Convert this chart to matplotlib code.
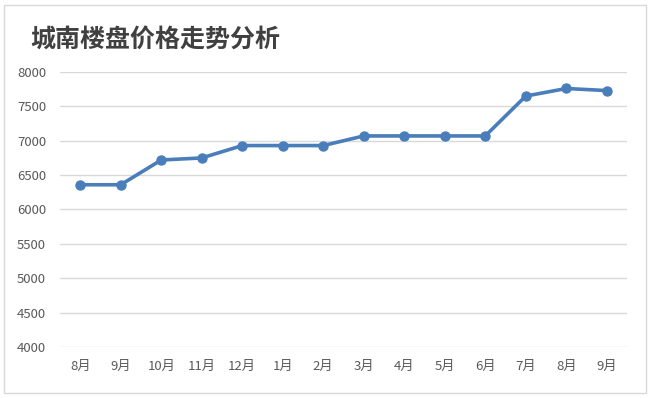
import matplotlib
matplotlib.use("Agg")
import matplotlib.pyplot as plt
from matplotlib.patches import Rectangle

plt.rcParams['font.family'] = ['Noto Sans CJK SC', 'DejaVu Sans']

title = "城南楼盘价格走势分析"
months = ["8月", "9月", "10月", "11月", "12月", "1月", "2月", "3月", "4月", "5月", "6月", "7月", "8月", "9月"]
prices = [6360, 6360, 6720, 6750, 6930, 6930, 6930, 7070, 7070, 7070, 7070, 7650, 7760, 7730]
yticks = [4000, 4500, 5000, 5500, 6000, 6500, 7000, 7500, 8000]

fig = plt.figure(figsize=(6.5, 3.98), dpi=100)
fig.patch.set_facecolor("white")
fig.patches.append(Rectangle((4/650, 5/398), 642/650, 388/398, transform=fig.transFigure,
                             fill=False, edgecolor="#d9d9d9", linewidth=1))

ax = fig.add_axes([60/650, 51/398, 567/650, 275/398])
x = list(range(len(months)))
ax.plot(x, prices, color="#4a7ebb", linewidth=2.6, marker="o", markersize=6.5,
        markerfacecolor="#4a7ebb", markeredgecolor="#4a7ebb", zorder=3)
ax.set_xlim(-0.5, len(months) - 0.5)
ax.set_ylim(4000, 8000)
ax.set_yticks(yticks)
ax.set_yticklabels([str(v) for v in yticks])
ax.set_xticks(x)
ax.set_xticklabels(months)
ax.grid(axis="y", color="#d9d9d9", linewidth=1)
ax.set_axisbelow(True)
for s in ax.spines.values():
    s.set_visible(False)
ax.tick_params(axis="both", length=0, colors="#595959", labelsize=9.5)
ax.tick_params(axis="y", pad=10)
ax.tick_params(axis="x", pad=9)

fig.text(30/650, 1 - 40/398, title, fontsize=18, fontweight="bold", color="#404040",
         ha="left", va="center")

fig.savefig("out.png", dpi=100)
